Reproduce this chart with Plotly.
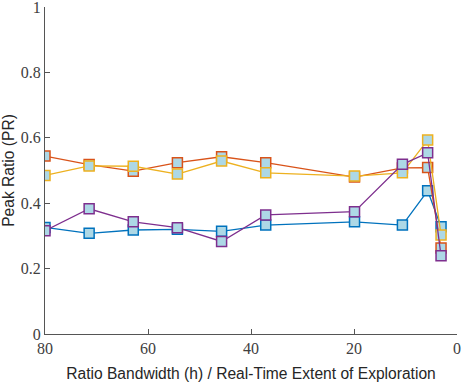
import plotly.graph_objects as go

x_vals = [80, 71.43, 62.86, 54.29, 45.71, 37.14, 19.9, 10.6, 5.7, 3.1]
series_blue = [0.326, 0.308, 0.318, 0.320, 0.314, 0.333, 0.343, 0.333, 0.438, 0.328]
series_red = [0.544, 0.518, 0.498, 0.524, 0.542, 0.524, 0.480, 0.508, 0.509, 0.263]
series_yellow = [0.485, 0.514, 0.513, 0.489, 0.529, 0.493, 0.483, 0.493, 0.593, 0.303]
series_purple = [0.316, 0.383, 0.343, 0.325, 0.283, 0.364, 0.374, 0.519, 0.554, 0.239]

colors = ["#0072BD", "#D95319", "#EDB120", "#7E2F8E"]
all_series = [series_blue, series_red, series_yellow, series_purple]

fig = go.Figure()
for ys, c in zip(all_series, colors):
    fig.add_trace(go.Scatter(
        x=x_vals, y=ys, mode="lines+markers",
        line=dict(color=c, width=1.3),
        marker=dict(symbol="square", size=10, color="#ADD8E6",
                    line=dict(color=c, width=1.5)),
        showlegend=False,
    ))

tick_font = dict(family="Liberation Serif, serif", size=16, color="#404040")
title_font = dict(family="Liberation Sans, Arial, sans-serif", size=15.6, color="#262626")
fig.update_layout(
    width=466, height=382,
    margin=dict(l=45, r=9, t=7, b=48),
    paper_bgcolor="white", plot_bgcolor="white",
    xaxis=dict(
        range=[80, 0], tickvals=[80, 60, 40, 20, 0],
        ticks="inside", ticklen=5, tickcolor="#555",
        showline=True, linecolor="#555", linewidth=1, mirror=False,
        showgrid=False, zeroline=False, tickfont=tick_font,
        automargin=False, ticklabeloverflow="allow",
        title=dict(text="Ratio Bandwidth (h) / Real-Time Extent of Exploration",
                   font=title_font),
    ),
    yaxis=dict(
        range=[0, 1], tickvals=[0, 0.2, 0.4, 0.6, 0.8, 1],
        ticktext=["0", "0.2", "0.4", "0.6", "0.8", "1"],
        ticks="inside", ticklen=5, tickcolor="#555",
        showline=True, linecolor="#555", linewidth=1, mirror=False,
        showgrid=False, zeroline=False, tickfont=tick_font,
        automargin=False, ticklabeloverflow="allow",
        title=dict(text="Peak Ratio (PR)", font=title_font),
    ),
)
fig.write_html("out.html", config={"displayModeBar": False},
               post_script="document.body.style.margin='0';document.body.style.overflow='hidden';")
